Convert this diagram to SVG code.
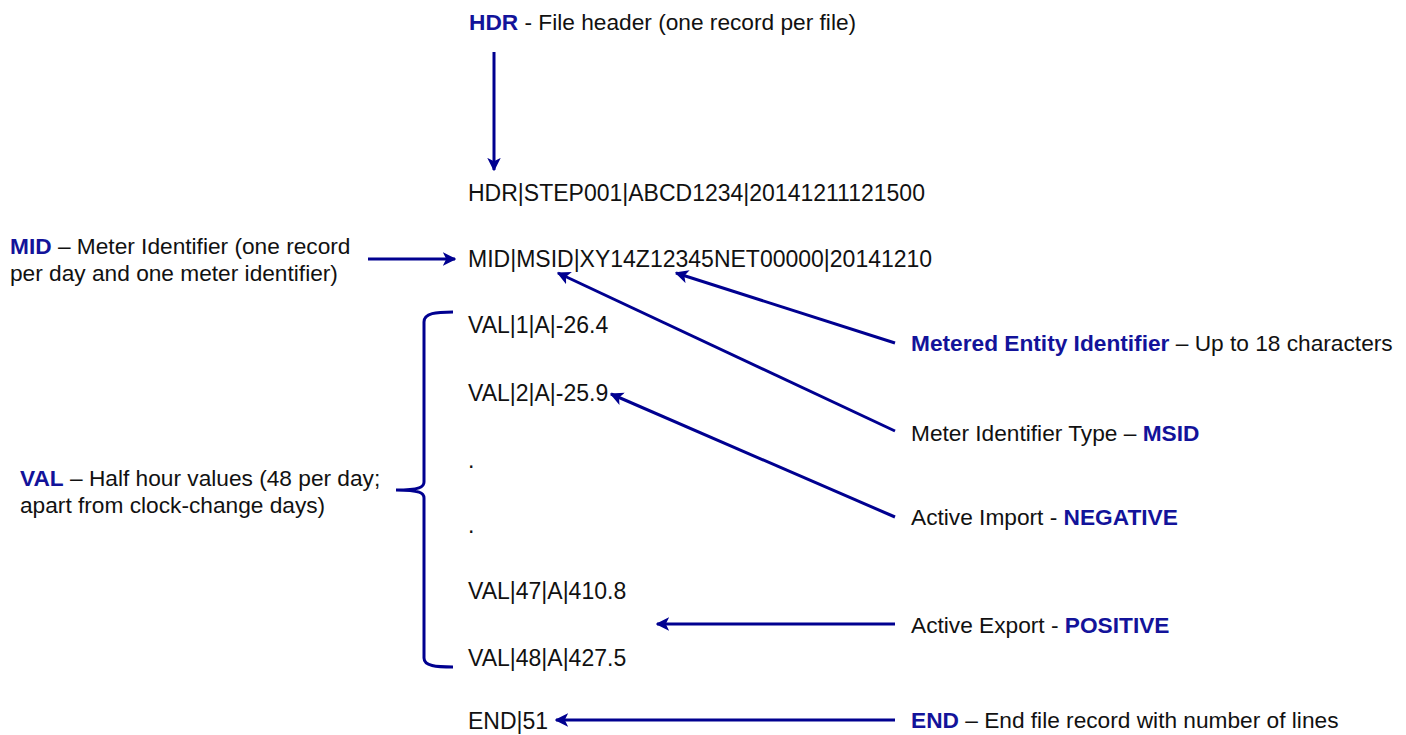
<svg xmlns="http://www.w3.org/2000/svg" width="1406" height="735" viewBox="0 0 1406 735">
  <style>
    text { font-family: "Liberation Sans", Arial, sans-serif; font-size: 22.7px; fill: #111111; }
    .rec { font-size: 23px; }
    .b { font-weight: bold; fill: #13139a; }
    .ln { stroke: #000090; stroke-width: 3; fill: none; }
  </style>
  <defs>
    <marker id="ah" viewBox="0 0 10 10" refX="9" refY="5" markerWidth="4.5" markerHeight="4.5" orient="auto" markerUnits="strokeWidth">
      <path d="M0,0 L10,5 L0,10 L2.5,5 Z" fill="#000090"/>
    </marker>
  </defs>

  <rect width="1406" height="735" fill="#ffffff"/>

  <!-- record lines -->
  <g id="records">
    <text class="rec" x="468" y="201">HDR|STEP001|ABCD1234|20141211121500</text>
    <text class="rec" x="468" y="267">MID|MSID|XY14Z12345NET00000|20141210</text>
    <text class="rec" x="468" y="333">VAL|1|A|-26.4</text>
    <text class="rec" x="468" y="401">VAL|2|A|-25.9</text>
    <text class="rec" x="468" y="468">.</text>
    <text class="rec" x="468" y="533">.</text>
    <text class="rec" x="468" y="599">VAL|47|A|410.8</text>
    <text class="rec" x="468" y="666">VAL|48|A|427.5</text>
    <text class="rec" x="468" y="729">END|51</text>
  </g>

  <!-- annotations -->
  <g id="hdr-note">
    <text x="469" y="30"><tspan class="b">HDR</tspan> - File header (one record per file)</text>
  </g>
  <g id="mid-note">
    <text x="10" y="254"><tspan class="b">MID</tspan> – Meter Identifier (one record</text>
    <text x="10" y="281">per day and one meter identifier)</text>
  </g>
  <g id="val-note">
    <text x="20" y="486"><tspan class="b">VAL</tspan> – Half hour values (48 per day;</text>
    <text x="20" y="513">apart from clock-change days)</text>
  </g>
  <g id="entity-note">
    <text x="911" y="351"><tspan class="b">Metered Entity Identifier</tspan> – Up to 18 characters</text>
  </g>
  <g id="type-note">
    <text x="911" y="441">Meter Identifier Type – <tspan class="b">MSID</tspan></text>
  </g>
  <g id="import-note">
    <text x="911" y="525">Active Import - <tspan class="b">NEGATIVE</tspan></text>
  </g>
  <g id="export-note">
    <text x="911" y="633">Active Export - <tspan class="b">POSITIVE</tspan></text>
  </g>
  <g id="end-note">
    <text x="911" y="728"><tspan class="b">END</tspan> – End file record with number of lines</text>
  </g>

  <!-- brace grouping the VAL records -->
  <g id="val-brace">
    <path class="ln" d="M453,312 C436,312 424,313 424,322 L424,482 C424,487 420,490 396,490 C420,490 424,493 424,498 L424,658 C424,666 436,667 453,667"/>
  </g>

  <!-- connectors -->
  <g id="connectors">
    <line class="ln" x1="494" y1="52" x2="494" y2="170" marker-end="url(#ah)"/>
    <line class="ln" x1="368" y1="259" x2="455" y2="259" marker-end="url(#ah)"/>
    <line class="ln" x1="895" y1="343" x2="676" y2="273" marker-end="url(#ah)"/>
    <line class="ln" x1="895" y1="431" x2="558" y2="273" marker-end="url(#ah)"/>
    <line class="ln" x1="895" y1="517" x2="611" y2="394" marker-end="url(#ah)"/>
    <line class="ln" x1="895" y1="624" x2="657" y2="624" marker-end="url(#ah)"/>
    <line class="ln" x1="895" y1="720" x2="556" y2="720" marker-end="url(#ah)"/>
  </g>
</svg>
